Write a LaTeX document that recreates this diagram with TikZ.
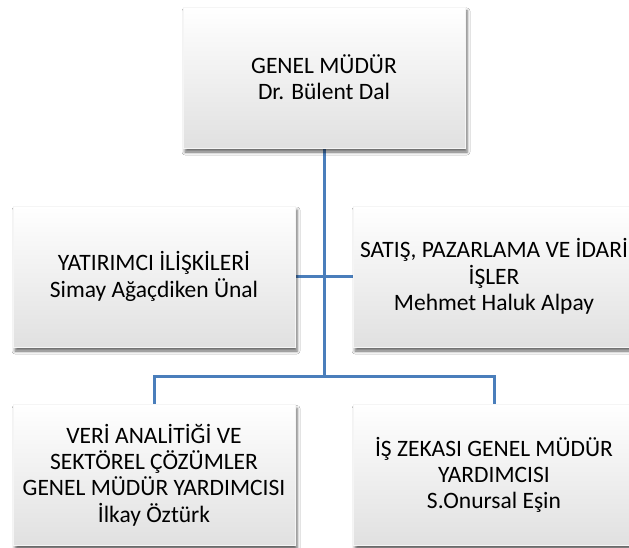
\documentclass[tikz,border=0pt]{standalone}
\usepackage{fontspec}
\setmainfont{Carlito}
\usetikzlibrary{shadows.blur,backgrounds}
\definecolor{connblue}{RGB}{74,126,187}
\tikzset{
  orgbox/.style={rectangle, minimum width=282pt, minimum height=141pt, inner sep=0pt,
    align=center, draw=black!4, line width=0.3pt,
    top color=white, middle color=white, bottom color=black!12,
    blur shadow={shadow xshift=2pt, shadow yshift=-4pt, shadow blur radius=3pt, shadow opacity=60},
    font=\fontsize{23.5}{26.3}\selectfont},
  conn/.style={draw=connblue, line width=3pt}
}
\begin{document}
\begin{tikzpicture}[x=1pt,y=-1pt]
\useasboundingbox (0,0) rectangle (629,548);
\clip (0,0) rectangle (629,548);
\node[orgbox] (top) at (324,77.5) {GENEL MÜDÜR\\Dr. Bülent Dal};
\node[orgbox] (ml) at (154,276.5) {YATIRIMCI İLİŞKİLERİ\\Simay Ağaçdiken Ünal};
\node[orgbox] (mr) at (494,276.5) {SATIŞ, PAZARLAMA VE İDARİ\\İŞLER\\Mehmet Haluk Alpay};
\node[orgbox] (bl) at (154,475) {VERİ ANALİTİĞİ VE\\SEKTÖREL ÇÖZÜMLER\\GENEL MÜDÜR YARDIMCISI\\İlkay Öztürk};
\node[orgbox] (br) at (494,475) {İŞ ZEKASI GENEL MÜDÜR\\YARDIMCISI\\S.Onursal Eşin};
\coordinate (bar) at (324,376);
\begin{scope}[on background layer]
\fill[white] (0,0) rectangle (629,548);
\draw[conn] (top.south) -- (bar);
\draw[conn] (ml.east) -- (mr.west);
\draw[conn] (bl.north) -- (bl.north |- bar) -- (br.north |- bar) -- (br.north);
\end{scope}
\end{tikzpicture}
\end{document}
